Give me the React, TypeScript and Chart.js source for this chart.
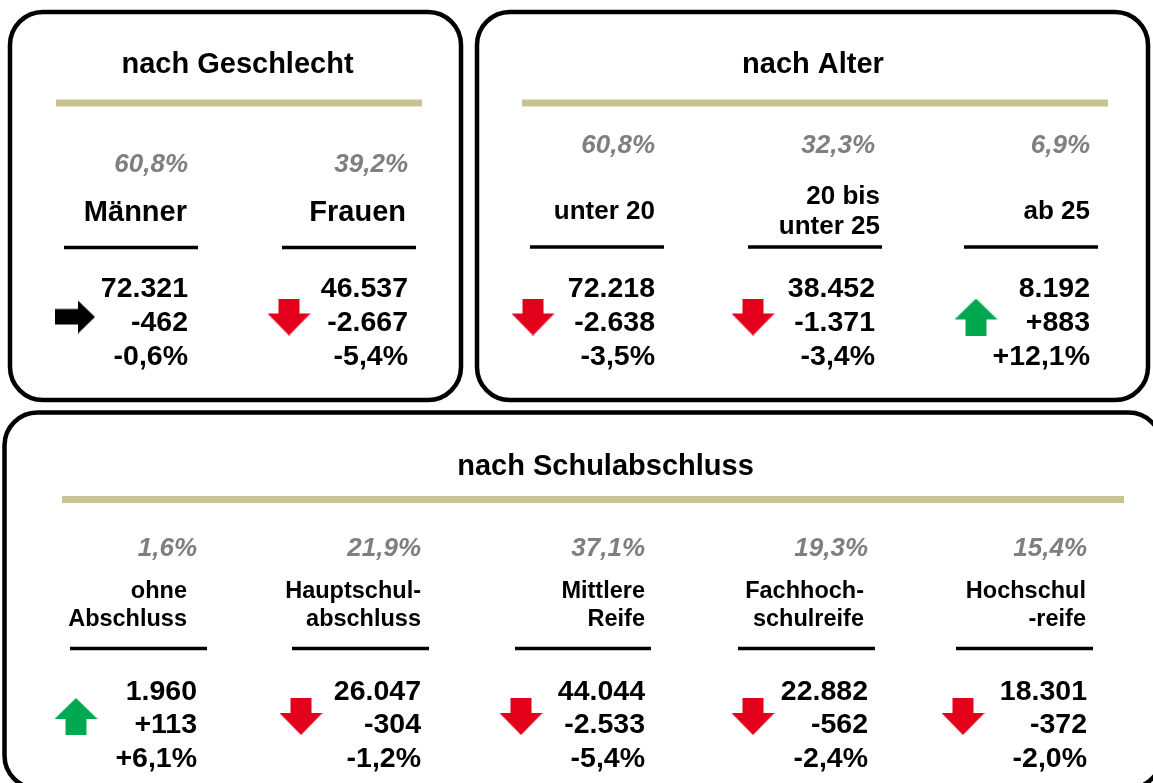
import React, { useEffect, useRef } from 'react';
import { Chart, registerables } from 'chart.js';

Chart.register(...registerables);

const CANVAS_W = 1153;
const CANVAS_H = 783;

// ---------------- data ----------------
const panelTitles = ['nach Geschlecht', 'nach Alter', 'nach Schulabschluss'];

const genderCategories = [['Männer'], ['Frauen']];
const genderShare = [60.8, 39.2];
const genderTotal = [72321, 46537];
const genderChange = [-462, -2667];
const genderChangePct = [-0.6, -5.4];

const ageCategories = [['unter 20'], ['20 bis', 'unter 25'], ['ab 25']];
const ageShare = [60.8, 32.3, 6.9];
const ageTotal = [72218, 38452, 8192];
const ageChange = [-2638, -1371, 883];
const ageChangePct = [-3.5, -3.4, 12.1];

const schoolCategories = [
  ['ohne', 'Abschluss'],
  ['Hauptschul-', 'abschluss'],
  ['Mittlere', 'Reife'],
  ['Fachhoch-', 'schulreife'],
  ['Hochschul', '-reife'],
];
const schoolShare = [1.6, 21.9, 37.1, 19.3, 15.4];
const schoolTotal = [1960, 26047, 44044, 22882, 18301];
const schoolChange = [113, -304, -2533, -562, -372];
const schoolChangePct = [6.1, -1.2, -5.4, -2.4, -2.0];

// ---------------- layout (positions / styles) ----------------
const layouts = [
  {
    box: [10, 12, 451, 388], titleX: 237.5, titleY: 63, gold: [56, 422, 103],
    valueRight: [188, 408], nameRight: [187, 406],
    underline: [[64, 198], [282, 416]], arrowX: [75, 289], arrowY: 317,
    shareY: 162.5, nameY: 211, nameLH: 30, nameSize: 29, lineY: 247.5, rowY: [287, 321, 355],
  },
  {
    box: [477, 12, 671, 388], titleX: 813, titleY: 63, gold: [522, 1108, 103],
    valueRight: [655, 875, 1090], nameRight: [655, 880, 1090],
    underline: [[530, 664], [748, 882], [964, 1098]], arrowX: [533, 753, 976], arrowY: 317,
    shareY: 144, nameY: 209.5, nameLH: 30, nameSize: 26, lineY: 247, rowY: [287, 321, 355],
  },
  {
    box: [4.5, 412.5, 1157, 376], titleX: 605.5, titleY: 465, gold: [62, 1124, 499.5],
    valueRight: [197, 421, 645, 868, 1087], nameRight: [187, 421, 645, 864, 1086],
    underline: [[70, 207], [292, 429], [515, 651], [738, 875], [956, 1093]],
    arrowX: [76, 301, 521, 753, 963], arrowY: 716.5,
    shareY: 547, nameY: 604, nameLH: 28, nameSize: 23.5, lineY: 648.5, rowY: [690, 723, 757],
  },
];

const FONT = '"Liberation Sans", Arial, Helvetica, sans-serif';
const GOLD = '#c9c393';
const GREY = '#7f7f7f';
const RED = '#e2001a';
const GREEN = '#00a94f';

// ---------------- helpers ----------------
function groupDe(n: number): string {
  return Math.round(Math.abs(n)).toString().replace(/\B(?=(\d{3})+(?!\d))/g, '.');
}
function sign(n: number): string {
  return n > 0 ? '+' : n < 0 ? '-' : '';
}
function fmtPct(v: number, signed: boolean): string {
  return (signed ? sign(v) : '') + Math.abs(v).toFixed(1).replace('.', ',') + '%';
}
function direction(pct: number): string {
  if (pct >= 1) return 'up';
  if (pct <= -1) return 'down';
  return 'flat';
}

function makeArrow(dir: string): HTMLCanvasElement {
  const c = document.createElement('canvas');
  const ctx = c.getContext('2d')!;
  if (dir === 'flat') {
    c.width = 40; c.height = 33;
    ctx.fillStyle = '#000';
    ctx.beginPath();
    ctx.moveTo(0, 8.5); ctx.lineTo(23, 8.5); ctx.lineTo(23, 0); ctx.lineTo(40, 16.5);
    ctx.lineTo(23, 33); ctx.lineTo(23, 24); ctx.lineTo(0, 24); ctx.closePath();
    ctx.fill();
  } else if (dir === 'down') {
    c.width = 43; c.height = 37;
    ctx.fillStyle = RED;
    ctx.beginPath();
    ctx.moveTo(11, 0); ctx.lineTo(32, 0); ctx.lineTo(32, 15); ctx.lineTo(43, 15);
    ctx.lineTo(21.5, 37); ctx.lineTo(0, 15); ctx.lineTo(11, 15); ctx.closePath();
    ctx.fill();
  } else {
    c.width = 43; c.height = 37;
    ctx.fillStyle = GREEN;
    ctx.beginPath();
    ctx.moveTo(21.5, 0); ctx.lineTo(43, 21); ctx.lineTo(32, 21); ctx.lineTo(32, 37);
    ctx.lineTo(11, 37); ctx.lineTo(11, 21); ctx.lineTo(0, 21); ctx.closePath();
    ctx.fill();
  }
  return c;
}

function roundRect(ctx: CanvasRenderingContext2D, x: number, y: number, w: number, h: number, r: number) {
  ctx.beginPath();
  ctx.moveTo(x + r, y);
  ctx.lineTo(x + w - r, y);
  ctx.arcTo(x + w, y, x + w, y + r, r);
  ctx.lineTo(x + w, y + h - r);
  ctx.arcTo(x + w, y + h, x + w - r, y + h, r);
  ctx.lineTo(x + r, y + h);
  ctx.arcTo(x, y + h, x, y + h - r, r);
  ctx.lineTo(x, y + r);
  ctx.arcTo(x, y, x + r, y, r);
  ctx.closePath();
}

const panels = [
  { categories: genderCategories, share: genderShare, total: genderTotal, change: genderChange, pct: genderChangePct },
  { categories: ageCategories, share: ageShare, total: ageTotal, change: ageChange, pct: ageChangePct },
  { categories: schoolCategories, share: schoolShare, total: schoolTotal, change: schoolChange, pct: schoolChangePct },
];

const infographicPlugin = {
  id: 'infographic',
  beforeDatasetsDraw(chart: any) {
    const ctx: CanvasRenderingContext2D = chart.ctx;
    const xs = chart.scales.x;
    const ys = chart.scales.y;
    const px = (v: number) => xs.getPixelForValue(v);
    const py = (v: number) => ys.getPixelForValue(v);
    const text = (t: string, x: number, cy: number, size: number, align: CanvasTextAlign, color: string, italic = false) => {
      ctx.font = `${italic ? 'italic ' : ''}bold ${size}px ${FONT}`;
      ctx.fillStyle = color;
      ctx.textAlign = align;
      ctx.textBaseline = 'alphabetic';
      ctx.fillText(t, px(x), py(cy + 0.358 * size));
    };
    ctx.save();
    panels.forEach((p, pi) => {
      const L = layouts[pi];
      const [bx, by, bw, bh] = L.box;
      ctx.lineWidth = 4.5;
      ctx.strokeStyle = '#000';
      roundRect(ctx, px(bx), py(by), px(bx + bw) - px(bx), py(by + bh) - py(by), 33);
      ctx.stroke();
      text(panelTitles[pi], L.titleX, L.titleY, 29, 'center', '#000');
      ctx.fillStyle = GOLD;
      ctx.fillRect(px(L.gold[0]), py(L.gold[2] - 3.5), px(L.gold[1]) - px(L.gold[0]), 7);
      p.categories.forEach((lines, i) => {
        const r = L.valueRight[i];
        text(fmtPct(p.share[i], false), r, L.shareY, 26, 'right', GREY, true);
        const n = lines.length;
        lines.forEach((ln, li) => {
          const cy = L.nameY + (li - (n - 1) / 2) * L.nameLH;
          text(ln, L.nameRight[i], cy, L.nameSize, 'right', '#000');
        });
        ctx.fillStyle = '#000';
        const [u0, u1] = L.underline[i];
        ctx.fillRect(px(u0), py(L.lineY - 1.75), px(u1) - px(u0), 3.5);
        text(groupDe(p.total[i]), r, L.rowY[0], 28.5, 'right', '#000');
        text(sign(p.change[i]) + groupDe(p.change[i]), r, L.rowY[1], 28.5, 'right', '#000');
        text(fmtPct(p.pct[i], true), r, L.rowY[2], 28.5, 'right', '#000');
      });
    });
    ctx.restore();
  },
};

export default function App() {
  const ref = useRef<HTMLCanvasElement | null>(null);
  useEffect(() => {
    if (!ref.current) return;
    const arrows: Record<string, HTMLCanvasElement> = {
      up: makeArrow('up'),
      down: makeArrow('down'),
      flat: makeArrow('flat'),
    };
    const points: any[] = [];
    panels.forEach((p, pi) => {
      const L = layouts[pi];
      p.pct.forEach((v, i) => {
        points.push({ x: L.arrowX[i], y: L.arrowY, dir: direction(v) });
      });
    });
    const chart = new Chart(ref.current, {
      type: 'scatter',
      data: {
        datasets: [
          {
            data: points,
            pointStyle: (c: any) => arrows[c.raw ? c.raw.dir : 'flat'],
            pointRadius: 5,
            clip: false as any,
          } as any,
        ],
      },
      options: {
        animation: false,
        responsive: false,
        events: [],
        layout: { padding: 0, autoPadding: false } as any,
        scales: {
          x: { type: 'linear', min: 0, max: CANVAS_W, display: false },
          y: { type: 'linear', min: 0, max: CANVAS_H, reverse: true, display: false },
        },
        plugins: { legend: { display: false }, tooltip: { enabled: false } },
      },
      plugins: [infographicPlugin],
    });
    return () => chart.destroy();
  }, []);
  return (
    <div style={{ position: 'absolute', left: 0, top: 0, width: CANVAS_W, height: CANVAS_H, background: '#fff' }}>
      <canvas ref={ref} width={CANVAS_W} height={CANVAS_H} />
    </div>
  );
}
